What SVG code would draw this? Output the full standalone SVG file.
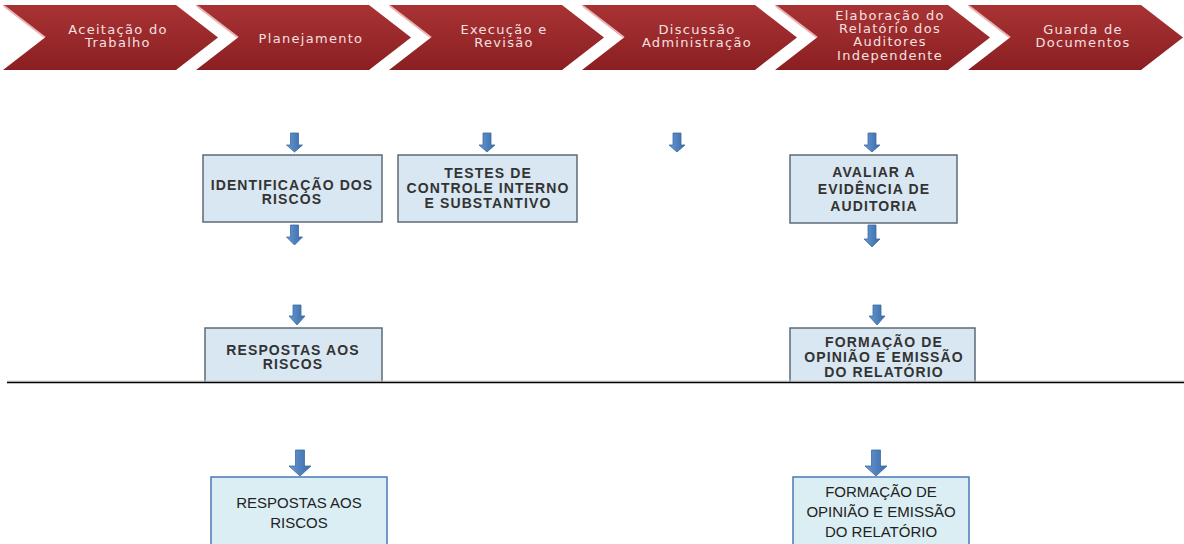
<svg xmlns="http://www.w3.org/2000/svg" width="1184" height="544" viewBox="0 0 1184 544">
<style>
.chev{fill:url(#red);}
.hl{stroke:#e7b3b3;stroke-width:2;fill:none;}
.ct{font-family:"DejaVu Sans",Verdana,sans-serif;font-size:13px;letter-spacing:1.3px;fill:#f4e0e0;text-anchor:middle;}
.box1{fill:#d8e7f1;stroke:#5d6b77;stroke-width:1.5;}
.bt{font-family:"Liberation Sans",Arial,sans-serif;font-weight:bold;font-size:14px;letter-spacing:1.1px;fill:#333;text-anchor:middle;}
.box2{fill:#dbeef4;stroke:#4a7ab4;stroke-width:1.5;}
.nt{font-family:"Liberation Sans",Arial,sans-serif;font-size:15px;fill:#222;text-anchor:middle;}
.arr{fill:url(#blue);stroke:#3c6aa3;stroke-width:0.8;}
</style>
<defs>
<linearGradient id="red" x1="0" y1="0" x2="0" y2="1">
<stop offset="0" stop-color="#a93334"/>
<stop offset="1" stop-color="#8a1f22"/>
</linearGradient>
<linearGradient id="blue" x1="0" y1="0" x2="1" y2="0">
<stop offset="0" stop-color="#6a9ad2"/>
<stop offset="0.5" stop-color="#4f81bd"/>
<stop offset="1" stop-color="#3d6ca6"/>
</linearGradient>
</defs>
<rect width="1184" height="544" fill="#fff"/>

<g id="step1">
<path class="chev" d="M3,5 H176 L218,37.5 L176,70 H3 L45,37.5 Z"/>
<path class="hl" d="M4,6 L45,37.5"/>
<text class="ct" x="118" y="34">Aceitação do</text>
<text class="ct" x="118" y="47">Trabalho</text>
</g>
<g id="step2">
<path class="chev" d="M196,5 H369 L411,37.5 L369,70 H196 L238,37.5 Z"/>
<path class="hl" d="M197,6 L238,37.5"/>
<text class="ct" x="311" y="43">Planejamento</text>
</g>
<g id="step3">
<path class="chev" d="M389,5 H562 L604,37.5 L562,70 H389 L431,37.5 Z"/>
<path class="hl" d="M390,6 L431,37.5"/>
<text class="ct" x="504" y="34">Execução e</text>
<text class="ct" x="504" y="47">Revisão</text>
</g>
<g id="step4">
<path class="chev" d="M582,5 H755 L797,37.5 L755,70 H582 L624,37.5 Z"/>
<path class="hl" d="M583,6 L624,37.5"/>
<text class="ct" x="697" y="34">Discussão</text>
<text class="ct" x="697" y="47">Administração</text>
</g>
<g id="step5">
<path class="chev" d="M775,5 H948 L990,37.5 L948,70 H775 L817,37.5 Z"/>
<path class="hl" d="M776,6 L817,37.5"/>
<text class="ct" x="890" y="20">Elaboração do</text>
<text class="ct" x="890" y="33">Relatório dos</text>
<text class="ct" x="890" y="46">Auditores</text>
<text class="ct" x="890" y="60">Independente</text>
</g>
<g id="step6">
<path class="chev" d="M968,5 H1141 L1183,37.5 L1141,70 H968 L1010,37.5 Z"/>
<path class="hl" d="M969,6 L1010,37.5"/>
<text class="ct" x="1083" y="34">Guarda de</text>
<text class="ct" x="1083" y="47">Documentos</text>
</g>

<g id="connectors">
<path class="arr" d="M290.5,133 H298.5 V145 H302.5 L294.5,152 L286.5,145 H290.5 Z"/>
<path class="arr" d="M483,133 H491 V145 H495 L487,152 L479,145 H483 Z"/>
<path class="arr" d="M673,133 H681 V145 H685 L677,152 L669,145 H673 Z"/>
<path class="arr" d="M868,133 H876 V145 H880 L872,152 L864,145 H868 Z"/>
<path class="arr" d="M290.5,225 H298.5 V237 H302.5 L294.5,245 L286.5,237 H290.5 Z"/>
<path class="arr" d="M868,225 H876 V239 H880 L872,247 L864,239 H868 Z"/>
<path class="arr" d="M293,305 H301 V316 H305 L297,325 L289,316 H293 Z"/>
<path class="arr" d="M873,305 H881 V316 H885 L877,325 L869,316 H873 Z"/>
<path class="arr" d="M295.5,450 H304.5 V466 H311 L300,476 L289,466 H295.5 Z"/>
<path class="arr" d="M871.5,450 H880.5 V466 H887 L876,476 L865,466 H871.5 Z"/>
</g>

<g id="identificacao">
<rect class="box1" x="203" y="155" width="179" height="67"/>
<text class="bt" x="292" y="190">IDENTIFICAÇÃO DOS</text>
<text class="bt" x="292" y="204">RISCOS</text>
</g>
<g id="testes">
<rect class="box1" x="398" y="155" width="179" height="67"/>
<text class="bt" x="488" y="178">TESTES DE</text>
<text class="bt" x="488" y="193">CONTROLE INTERNO</text>
<text class="bt" x="488" y="208">E SUBSTANTIVO</text>
</g>
<g id="avaliar">
<rect class="box1" x="790" y="155" width="167" height="68"/>
<text class="bt" x="874" y="177">AVALIAR A</text>
<text class="bt" x="874" y="194">EVIDÊNCIA DE</text>
<text class="bt" x="874" y="211">AUDITORIA</text>
</g>
<g id="respostas1">
<path class="box1" d="M205,382 V328 H382 V382"/>
<text class="bt" x="293" y="355">RESPOSTAS AOS</text>
<text class="bt" x="293" y="369">RISCOS</text>
</g>
<g id="formacao1">
<path class="box1" d="M790,382 V328 H975 V382"/>
<text class="bt" x="884" y="347">FORMAÇÃO DE</text>
<text class="bt" x="884" y="362">OPINIÃO E  EMISSÃO</text>
<text class="bt" x="884" y="377">DO RELATÓRIO</text>
</g>

<g id="divider">
<line x1="7" y1="381" x2="1184" y2="381" stroke="#ccc" stroke-width="1"/>
<line x1="7" y1="382.5" x2="1184" y2="382.5" stroke="#000" stroke-width="1.6"/>
</g>

<g id="respostas2">
<path class="box2" d="M211,545 V477 H387 V545"/>
<text class="nt" x="299" y="508">RESPOSTAS AOS</text>
<text class="nt" x="299" y="528">RISCOS</text>
</g>
<g id="formacao2">
<path class="box2" d="M793,545 V477 H969 V545"/>
<text class="nt" x="881" y="497">FORMAÇÃO DE</text>
<text class="nt" x="881" y="517">OPINIÃO E EMISSÃO</text>
<text class="nt" x="881" y="537">DO RELATÓRIO</text>
</g>
</svg>
